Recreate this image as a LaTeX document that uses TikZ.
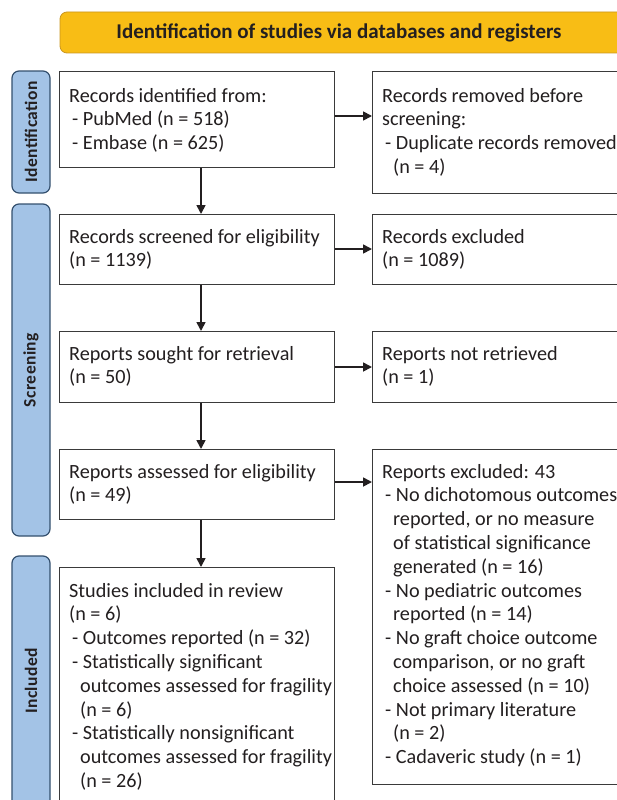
\documentclass[tikz,border=0pt]{standalone}
\usepackage{fontspec}
\setmainfont{Carlito}
\usetikzlibrary{arrows.meta}
\definecolor{bannerfill}{HTML}{F8BD15}
\definecolor{bannerdraw}{HTML}{C99520}
\definecolor{sidefill}{HTML}{A3C3E6}
\definecolor{sidedraw}{HTML}{34506E}
\definecolor{boxdraw}{HTML}{3A3A3A}
\definecolor{txt}{HTML}{231F20}
\tikzset{
  banner/.style={draw=bannerdraw, fill=bannerfill, rounded corners=7pt, line width=0.8pt},
  sidelabel/.style={draw=sidedraw, fill=sidefill, rounded corners=7pt, line width=1.2pt},
  sidetext/.style={rotate=90, font=\fontsize{17.5}{20}\selectfont\bfseries\addfontfeatures{LetterSpace=2.5}, text=txt},
  flowbox/.style={draw=boxdraw, line width=0.9pt, fill=white},
  boxtext/.style={anchor=base west, inner sep=0pt, text=txt, font=\fontsize{20.2}{23.8}\selectfont},
  flowarrow/.style={draw=txt, line width=1.7pt, -{Triangle[length=9pt,width=9pt]}}
}
\newcommand{\dashitem}{\hspace{3pt}- }
\newcommand{\contind}{\hspace{11pt}}
\newcommand{\txtlines}[1]{\begin{tabular}[t]{@{}l@{}}#1\end{tabular}}
\begin{document}
\begin{tikzpicture}[x=1pt,y=-1pt]
\useasboundingbox (0,0) rectangle (617,800);
\clip (0,0) rectangle (617,800);
% banner
\draw[banner] (60,12) rectangle (640,53);
\node[font=\fontsize{21}{24}\selectfont\bfseries, text=txt] (title) at (339,33) {Identification of studies via databases and registers};
% side labels
\draw[sidelabel] (12,71) rectangle (50,193);
\node[sidetext] (lid) at (31,132) {Identification};
\draw[sidelabel] (12,204) rectangle (50,536);
\node[sidetext] (lsc) at (31,370) {Screening};
\draw[sidelabel] (12,556) rectangle (50,840);
\node[sidetext] (lin) at (31,681) {Included};
% left boxes
\node[flowbox, anchor=north west, minimum width=275pt, minimum height=96pt, inner sep=0pt] (b1) at (59,71) {};
\node[boxtext] (t1) at (69,102) {\txtlines{Records identified from:\\\dashitem PubMed (n = 518)\\\dashitem Embase (n = 625)}};
\node[flowbox, anchor=north west, minimum width=275pt, minimum height=70pt, inner sep=0pt] (b2) at (59,214) {};
\node[boxtext] (t2) at (69,243) {\txtlines{Records screened for eligibility\\(n = 1139)}};
\node[flowbox, anchor=north west, minimum width=275pt, minimum height=71pt, inner sep=0pt] (b3) at (59,331) {};
\node[boxtext] (t3) at (69,360) {\txtlines{Reports sought for retrieval\\(n = 50)}};
\node[flowbox, anchor=north west, minimum width=275pt, minimum height=70pt, inner sep=0pt] (b4) at (59,449) {};
\node[boxtext] (t4) at (69,478) {\txtlines{Reports assessed for eligibility\\(n = 49)}};
\node[flowbox, anchor=north west, minimum width=275pt, minimum height=270pt, inner sep=0pt] (b5) at (59,567) {};
\node[boxtext] (t5) at (69,597) {\txtlines{Studies included in review\\(n = 6)\\\dashitem Outcomes reported (n = 32)\\\dashitem Statistically significant\\\contind outcomes assessed for fragility\\\contind (n = 6)\\\dashitem Statistically nonsignificant\\\contind outcomes assessed for fragility\\\contind (n = 26)}};
% right boxes
\node[flowbox, anchor=north west, minimum width=280pt, minimum height=122pt, inner sep=0pt] (r1) at (372,71) {};
\node[boxtext] (s1) at (382,102) {\txtlines{Records removed before\\screening:\\\dashitem Duplicate records removed\\\contind(n = 4)}};
\node[flowbox, anchor=north west, minimum width=280pt, minimum height=70pt, inner sep=0pt] (r2) at (372,214) {};
\node[boxtext] (s2) at (382,243) {\txtlines{Records excluded\\(n = 1089)}};
\node[flowbox, anchor=north west, minimum width=280pt, minimum height=71pt, inner sep=0pt] (r3) at (372,331) {};
\node[boxtext] (s3) at (382,360) {\txtlines{Reports not retrieved\\(n = 1)}};
\node[flowbox, anchor=north west, minimum width=280pt, minimum height=335pt, inner sep=0pt] (r4) at (372,449) {};
\node[boxtext] (s4) at (382,478) {\txtlines{Reports excluded: 43\\\dashitem No dichotomous outcomes\\\contind reported, or no measure\\\contind of statistical significance\\\contind generated (n = 16)\\\dashitem No pediatric outcomes\\\contind reported (n = 14)\\\dashitem No graft choice outcome\\\contind comparison, or no graft\\\contind choice assessed (n = 10)\\\dashitem Not primary literature\\\contind (n = 2)\\\dashitem Cadaveric study (n = 1)}};
% arrows
\draw[flowarrow] (b1.south -| 201,0) -- (b2.north -| 201,0);
\draw[flowarrow] (b2.south -| 201,0) -- (b3.north -| 201,0);
\draw[flowarrow] (b3.south -| 201,0) -- (b4.north -| 201,0);
\draw[flowarrow] (b4.south -| 201,0) -- (b5.north -| 201,0);
\draw[flowarrow] (b1.east |- 0,116) -- (r1.west |- 0,116);
\draw[flowarrow] (b2.east |- 0,249) -- (r2.west |- 0,249);
\draw[flowarrow] (b3.east |- 0,367) -- (r3.west |- 0,367);
\draw[flowarrow] (b4.east |- 0,482) -- (r4.west |- 0,482);
\end{tikzpicture}
\end{document}
